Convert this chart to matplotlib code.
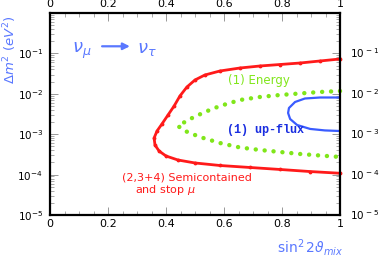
import matplotlib
matplotlib.use("Agg")
import matplotlib.pyplot as plt
from matplotlib.ticker import FixedLocator, NullFormatter, LogLocator

plt.rcParams['font.family'] = ['DejaVu Sans']
plt.rcParams['mathtext.fontset'] = 'dejavusans'

# ---- data ----
x_ticks = [0, 0.2, 0.4, 0.6, 0.8, 1.0]
x_tick_labels = ['0', '0.2', '0.4', '0.6', '0.8', '1']
y_ticks = [1e-1, 1e-2, 1e-3, 1e-4, 1e-5]
y_tick_labels_left = [r'$10^{-1}$', r'$10^{-2}$', r'$10^{-3}$', r'$10^{-4}$', r'$10^{-5}$']
y_tick_labels_right = [r'$10^{\,-1}$', r'$10^{\,-2}$', r'$10^{\,-3}$', r'$10^{\,-4}$', r'$10^{\,-5}$']

# (2,3+4) Semicontained and stop mu contour
red_x = [1.0, 0.931, 0.862, 0.793, 0.724, 0.655, 0.586, 0.534, 0.5, 0.472, 0.448,
         0.428, 0.407, 0.386, 0.369, 0.359, 0.362, 0.376, 0.4, 0.441, 0.5, 0.586,
         0.69, 0.793, 0.897, 1.0]
red_y = [0.0727, 0.0649, 0.0578, 0.0531, 0.0488, 0.0435, 0.0367, 0.0292, 0.0220,
         0.0147, 0.00883, 0.00499, 0.00299, 0.00179, 0.00120, 0.000805, 0.000541,
         0.000384, 0.000289, 0.000230, 0.000194, 0.000168, 0.000150, 0.000134,
         0.000119, 0.000108]

# (1) Energy contour
green_x = [1.0, 0.931, 0.862, 0.793, 0.724, 0.655, 0.586, 0.534, 0.483, 0.441,
           0.466, 0.517, 0.586, 0.655, 0.724, 0.793, 0.862, 0.931, 1.0]
green_y = [0.0117, 0.0111, 0.0102, 0.00934, 0.00834, 0.00703, 0.00499, 0.00355,
           0.00238, 0.00160, 0.00120, 0.000853, 0.000605, 0.000469, 0.000407,
           0.000363, 0.000324, 0.000297, 0.000273]

# (1) up-flux contour
blue_x = [1.0, 0.931, 0.879, 0.845, 0.824, 0.821, 0.828, 0.852, 0.897, 0.948, 1.0]
blue_y = [0.00810, 0.00810, 0.00765, 0.00627, 0.00445, 0.00335, 0.00238, 0.00169,
          0.00135, 0.00124, 0.00120]

RED = '#ff1a1a'
GREEN = '#80e61a'
BLUE = '#3a5cff'
TXTBLUE = '#5a78ff'

fig = plt.figure(figsize=(3.82, 2.64), dpi=100)
ax = fig.add_axes([50/382, 1-215/264, 290/382, 202/264])

ax.plot(red_x, red_y, color=RED, lw=2.0, marker='.', ms=3.5, clip_on=False)
ax.plot(green_x, green_y, color=GREEN, lw=3.2, linestyle=(0, (0.01, 2.0)),
        dash_capstyle='round', clip_on=False)
ax.plot(blue_x, blue_y, color=BLUE, lw=1.6)

ax.set_yscale('log')
ax.set_xlim(0, 1)
ax.set_ylim(1e-5, 1)

for s in ax.spines.values():
    s.set_linewidth(1.6)

ax.set_xticks(x_ticks)
ax.set_xticklabels(x_tick_labels)
ax.xaxis.set_minor_locator(FixedLocator([i * 0.05 for i in range(21)]))
ax.set_yticks(y_ticks)
ax.set_yticklabels(y_tick_labels_left)
ax.yaxis.set_minor_locator(LogLocator(base=10, subs=range(2, 10), numticks=20))
ax.yaxis.set_minor_formatter(NullFormatter())

ax.tick_params(axis='both', which='major', direction='in', length=6, width=0.6,
               labelsize=8, top=True, right=True, labeltop=True, labelright=False,
               color='#888888')
ax.tick_params(axis='both', which='minor', direction='in', length=3, width=0.5,
               top=True, right=True, color='#888888')
ax.tick_params(axis='x', pad=3)
ax.tick_params(axis='y', labelsize=7.5, pad=5)

# right side labels
for yv, lab in zip(y_ticks, y_tick_labels_right):
    ax.text(1.035, yv, lab, transform=ax.get_yaxis_transform(), fontsize=7.5,
            va='center', ha='left')

# annotations
ax.text(0.076, 0.105, r'$\nu_\mu$', color=TXTBLUE, fontsize=13, style='italic')
ax.annotate('', xy=(0.285, 0.15), xytext=(0.17, 0.15),
            arrowprops=dict(arrowstyle='-|>', color=TXTBLUE, lw=1.6,
                            mutation_scale=10))
ax.text(0.30, 0.105, r'$\nu_\tau$', color=TXTBLUE, fontsize=13, style='italic')

fig.text(10/382, 1-50/264, r'$\Delta m^2\ (eV^2)$', rotation=90, color=TXTBLUE,
         fontsize=9.5, ha='center', va='center')
fig.text(310/382, 1-248/264, r'$\sin^2 2\vartheta_{mix}$', color=TXTBLUE,
         fontsize=10, ha='center', va='center')

ax.text(0.615, 0.021, '(1) Energy', color=GREEN, fontsize=8.5, va='center')
ax.text(0.61, 0.00124, '(1) up-flux', color='#1a2ee0', fontsize=8.5,
        family='Liberation Mono', weight='bold', va='center')
ax.text(0.248, 0.0000824, '(2,3+4) Semicontained', color=RED, fontsize=8,
        va='center')
ax.text(0.293, 0.0000416, r'and stop $\mu$', color=RED, fontsize=8, va='center')

fig.savefig('out.png', dpi=100)
